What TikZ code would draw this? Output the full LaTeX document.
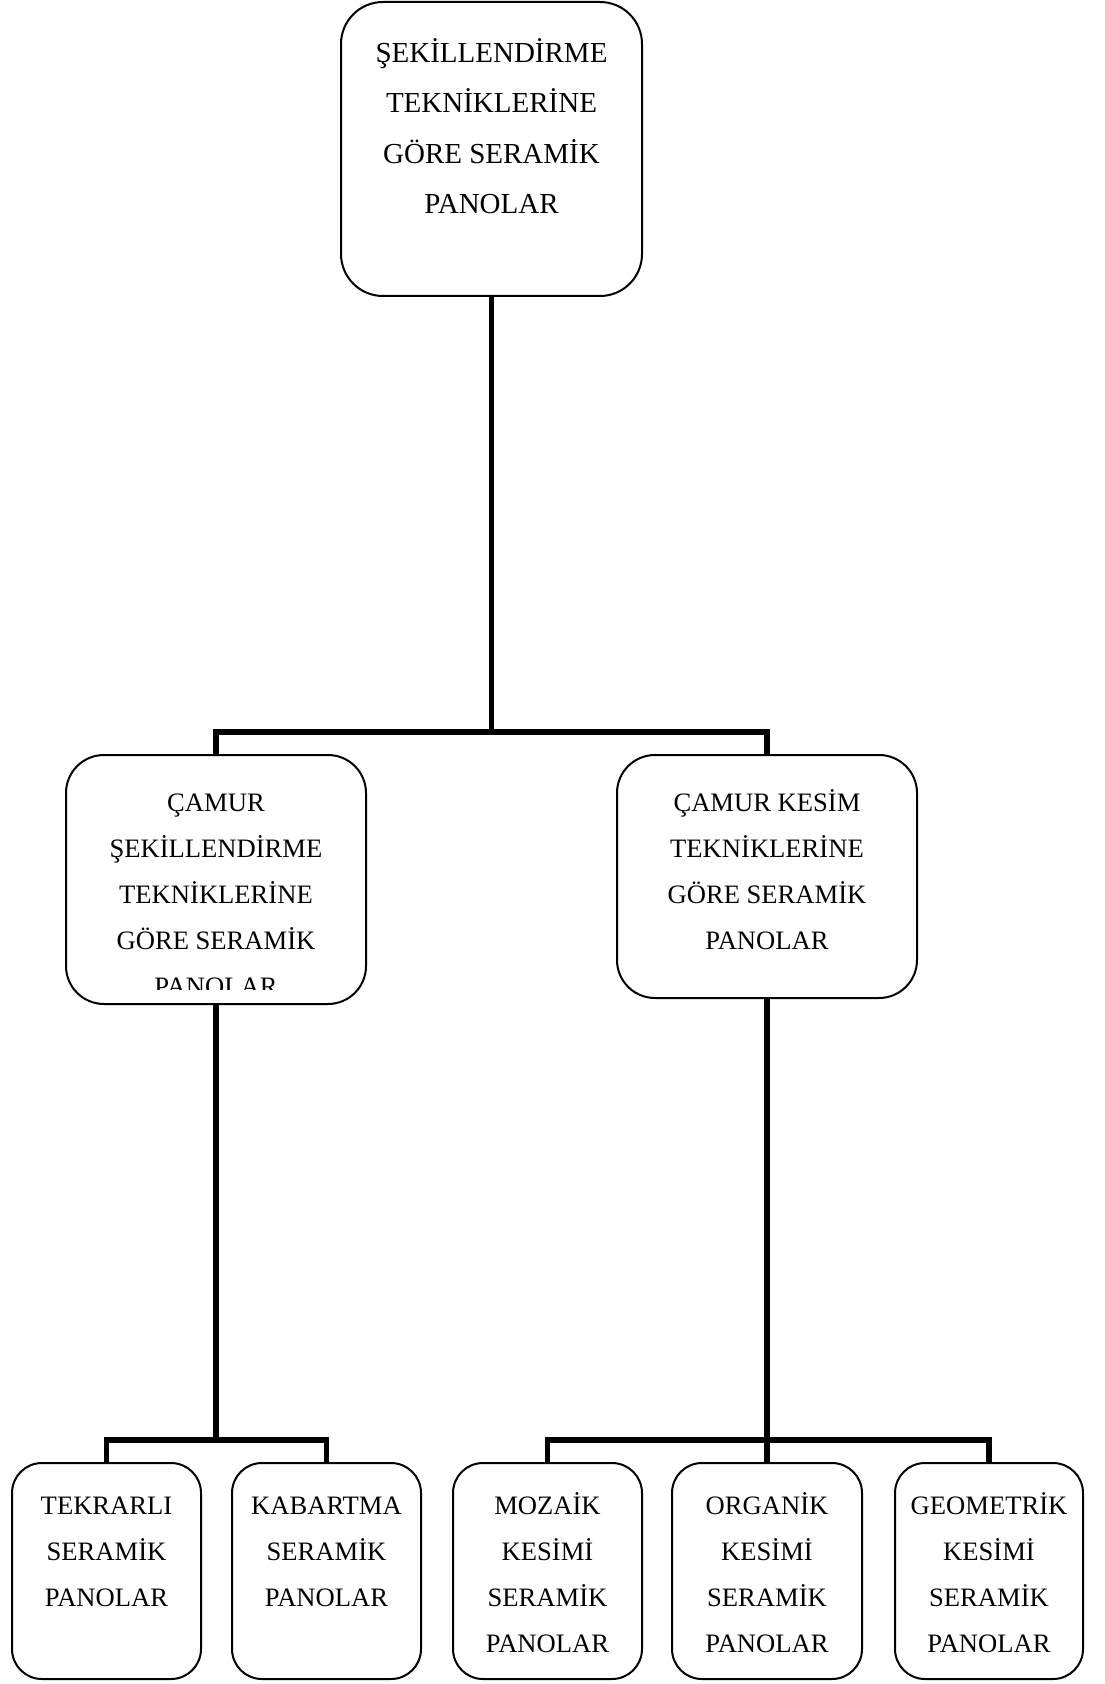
\documentclass[tikz,border=0pt]{standalone}
\usepackage{fontspec}
\setmainfont{Liberation Serif}
\begin{document}
\begin{tikzpicture}[x=0.5pt,y=-0.5pt,
  box/.style={draw=black, line width=1pt, rounded corners=#1, fill=none, inner sep=0pt},
  conn/.style={draw=black, line width=2.8pt, line join=miter},
  bigtext/.style={inner sep=0pt, anchor=north, align=center, font=\fontsize{14.5}{25.25}\selectfont},
  smalltext/.style={inner sep=0pt, anchor=north, align=center, font=\fontsize{13.3}{23}\selectfont}]
\useasboundingbox (0,0) rectangle (1104,1684);

% boxes
\node[box=21pt, minimum width=150.5pt, minimum height=147pt] (top) at (491.5,149) {};
\node[box=19pt, minimum width=150pt, minimum height=124.5pt] (mL) at (216,879.5) {};
\node[box=19pt, minimum width=150pt, minimum height=121.5pt] (mR) at (767,876.5) {};
\node[box=15pt, minimum width=94.5pt, minimum height=108pt] (b1) at (106.5,1571) {};
\node[box=15pt, minimum width=94.5pt, minimum height=108pt] (b2) at (326.5,1571) {};
\node[box=15pt, minimum width=94.5pt, minimum height=108pt] (b3) at (547.5,1571) {};
\node[box=15pt, minimum width=95pt, minimum height=108pt] (b4) at (767,1571) {};
\node[box=15pt, minimum width=94pt, minimum height=108pt] (b5) at (989,1571) {};

% texts
\node[bigtext] (ttop) at (491.5,26.6) {\strut ŞEKİLLENDİRME\\\strut TEKNİKLERİNE\\\strut GÖRE SERAMİK\\\strut PANOLAR};
\begin{scope}
\clip (66,755) rectangle (366,989);
\node[smalltext] (tmL) at (216,778.8) {\strut ÇAMUR\\\strut ŞEKİLLENDİRME\\\strut TEKNİKLERİNE\\\strut GÖRE SERAMİK\\\strut PANOLAR};
\end{scope}
\node[smalltext] (tmR) at (767,778.8) {\strut ÇAMUR KESİM\\\strut TEKNİKLERİNE\\\strut GÖRE SERAMİK\\\strut PANOLAR};
\node[smalltext] (tb1) at (106.5,1481.8) {\strut TEKRARLI\\\strut SERAMİK\\\strut PANOLAR};
\node[smalltext] (tb2) at (326.5,1481.8) {\strut KABARTMA\\\strut SERAMİK\\\strut PANOLAR};
\node[smalltext] (tb3) at (547.5,1481.8) {\strut MOZAİK\\\strut KESİMİ\\\strut SERAMİK\\\strut PANOLAR};
\node[smalltext] (tb4) at (767,1481.8) {\strut ORGANİK\\\strut KESİMİ\\\strut SERAMİK\\\strut PANOLAR};
\node[smalltext] (tb5) at (989,1481.8) {\strut GEOMETRİK\\\strut KESİMİ\\\strut SERAMİK\\\strut PANOLAR};

% connectors
\coordinate (bar1) at (0,732);
\coordinate (bar2) at (0,1440);
\draw[conn] (top.south) -- (top.south |- bar1);
\draw[conn] (mL.north) |- (mR.north |- bar1) -- (mR.north);
\draw[conn] (mL.south) -- (mL.south |- bar2);
\draw[conn] (b1.north) |- (b2.north |- bar2) -- (b2.north);
\draw[conn] (mR.south) -- (mR.south |- bar2);
\draw[conn] (b3.north) |- (b5.north |- bar2) -- (b5.north);
\draw[conn] (b4.north) -- (b4.north |- bar2);
\end{tikzpicture}
\end{document}
